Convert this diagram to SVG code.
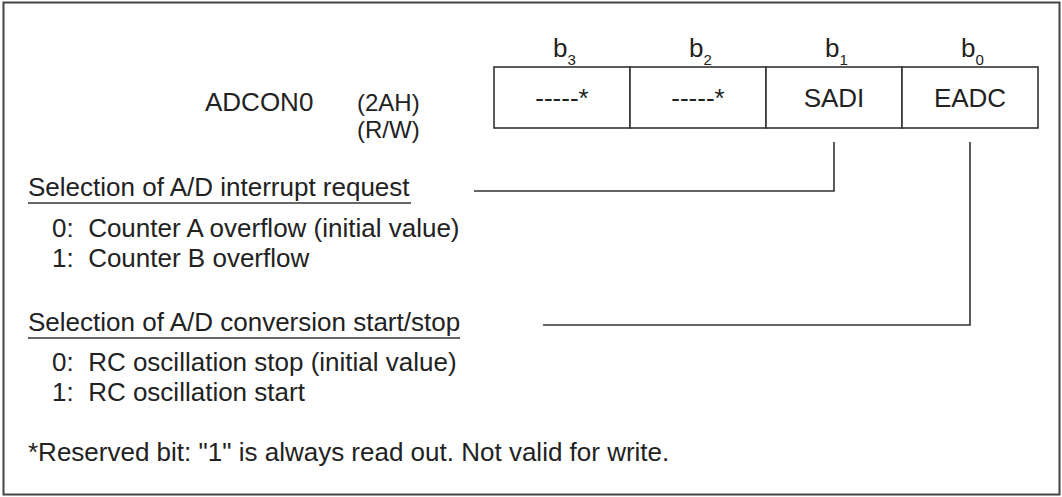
<svg xmlns="http://www.w3.org/2000/svg" width="1062" height="497" viewBox="0 0 1062 497">
<style>
text{font-family:"Liberation Sans",Arial,sans-serif;font-size:26px;fill:#222;white-space:pre}
.sub{font-size:15px}
.addr{font-size:24px}
.ln{stroke:#333;stroke-width:1.6;fill:none}
.cell{stroke:#333;stroke-width:1.6;fill:#fff}
</style>
<rect x="3.5" y="2.5" width="1056" height="492" fill="#fff" stroke="#444" stroke-width="2"/>
<g id="register-name">
<text x="205" y="111">ADCON0</text>
<text class="addr" x="357" y="111">(2AH)</text>
<text class="addr" x="357" y="138">(R/W)</text>
</g>
<g id="bit-labels">
<text x="553" y="57">b<tspan class="sub" dy="8">3</tspan></text>
<text x="689" y="57">b<tspan class="sub" dy="8">2</tspan></text>
<text x="825" y="57">b<tspan class="sub" dy="8">1</tspan></text>
<text x="961" y="57">b<tspan class="sub" dy="8">0</tspan></text>
</g>
<g id="bit3"><rect class="cell" x="494" y="67" width="136" height="61"/><text x="562" y="107" text-anchor="middle">-----*</text></g>
<g id="bit2"><rect class="cell" x="630" y="67" width="136" height="61"/><text x="698" y="107" text-anchor="middle">-----*</text></g>
<g id="bit1"><rect class="cell" x="766" y="67" width="136" height="61"/><text x="834" y="107" text-anchor="middle">SADI</text></g>
<g id="bit0"><rect class="cell" x="902" y="67" width="136" height="61"/><text x="970" y="107" text-anchor="middle">EADC</text></g>
<g id="desc-sadi">
<text x="28" y="196">Selection of A/D interrupt request</text>
<line class="ln" x1="28" y1="203" x2="411" y2="203"/>
<text x="52" y="237" xml:space="preserve">0:  Counter A overflow (initial value)</text>
<text x="52" y="267" xml:space="preserve">1:  Counter B overflow</text>
</g>
<g id="desc-eadc">
<text x="28" y="331">Selection of A/D conversion start/stop</text>
<line class="ln" x1="28" y1="338" x2="460" y2="338"/>
<text x="52" y="371" xml:space="preserve">0:  RC oscillation stop (initial value)</text>
<text x="52" y="401" xml:space="preserve">1:  RC oscillation start</text>
</g>
<g id="note"><text x="28" y="461">*Reserved bit: "1" is always read out. Not valid for write.</text></g>
<g id="connectors">
<polyline class="ln" points="474,191 834,191 834,142"/>
<polyline class="ln" points="543,325 970,325 970,142"/>
</g>
</svg>
